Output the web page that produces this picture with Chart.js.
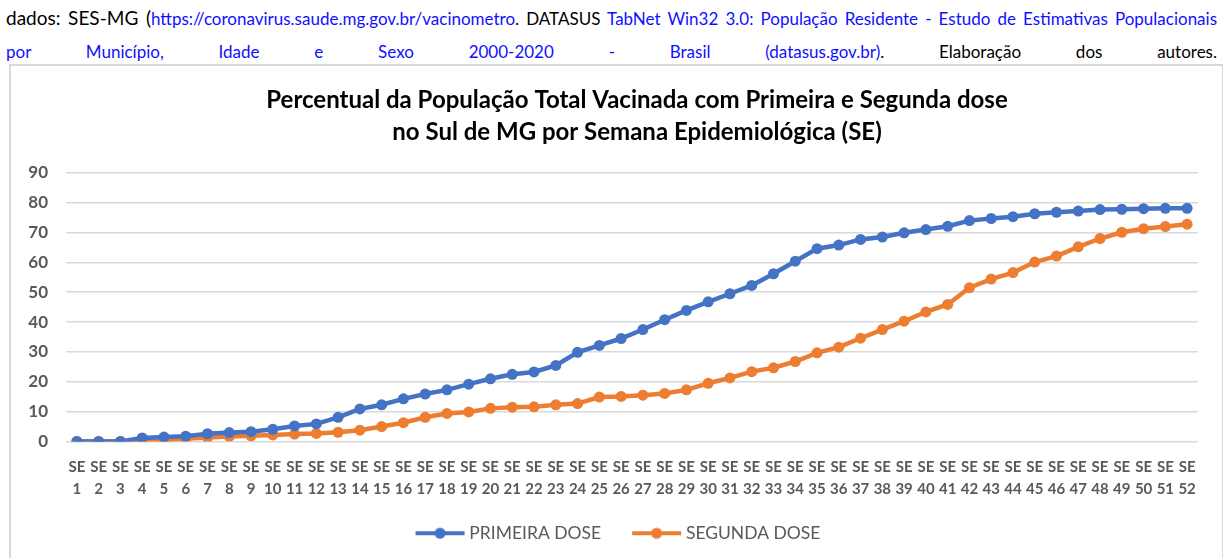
<!DOCTYPE html>
<html>
<head>
<meta charset="utf-8">
<script src="https://cdn.jsdelivr.net/npm/chart.js@4.4.1/dist/chart.umd.min.js"></script>
<style>
  html, body { margin: 0; padding: 0; background: #fff; overflow: hidden; }
  body { width: 1223px; height: 558px; position: relative; font-family: Lato, "Open Sans", sans-serif; }
  .linha { position: absolute; left: 6px; width: 1211px; white-space: nowrap; text-align: justify; text-align-last: justify; color: #000; }
  .l1 { top: 6px; font-size: 17px; }
  .l2 { top: 41px; font-size: 17px; }
  .grande { font-size: 19px; }
  .azul { color: #1010ff; }
  .caixa { position: absolute; left: 9px; top: 64px; width: 1211px; height: 520px; border: 2px solid #d9d9d9; border-bottom: none; }
  .grafico { position: absolute; left: 11px; top: 66px; width: 1209px; height: 502px; }
</style>
</head>
<body>
<div class="linha l1"><span class="grande">dados: SES-MG (</span><span class="azul">https://coronavirus.saude.mg.gov.br/vacinometro</span>. DATASUS <span class="azul">TabNet Win32 3.0: População Residente - Estudo de Estimativas Populacionais</span></div>
<div class="linha l2"><span class="azul">por Município, Idade e Sexo 2000-2020 - Brasil (datasus.gov.br)</span>. Elaboração dos autores.</div>
<div class="caixa"></div>
<div class="grafico"><canvas id="myChart"></canvas></div>

<script>
// semanas epidemiologicas
const semanas = [1, 2, 3, 4, 5, 6, 7, 8, 9, 10, 11, 12, 13, 14, 15, 16, 17, 18, 19, 20, 21, 22, 23, 24, 25, 26,
  27, 28, 29, 30, 31, 32, 33, 34, 35, 36, 37, 38, 39, 40, 41, 42, 43, 44, 45, 46, 47, 48, 49, 50, 51, 52];

// % da populacao
const primeiraDose = [0, 0, 0, 1.2, 1.5, 1.8, 2.6, 3, 3.3, 4.1, 5.2, 5.9, 8.1, 10.9, 12.3, 14.3, 15.9, 17.3, 19.2, 21.0,
  22.5, 23.3, 25.5, 29.9, 32.2, 34.5, 37.5, 40.8, 43.9, 46.8, 49.5, 52.3, 56.2, 60.4, 64.6, 65.8, 67.7, 68.5, 69.9, 71.0,
  72.1, 74.0, 74.7, 75.3, 76.3, 76.8, 77.2, 77.7, 77.8, 78.0, 78.1, 78.1];

const segundaDose = [0, 0, 0, 0.3, 0.5, 0.9, 1.3, 1.7, 1.9, 2.2, 2.5, 2.7, 3.1, 3.8, 5.0, 6.3, 8.1, 9.4, 9.9, 11.1,
  11.5, 11.6, 12.3, 12.7, 14.9, 15.1, 15.5, 16.1, 17.3, 19.5, 21.3, 23.4, 24.7, 26.8, 29.7, 31.6, 34.6, 37.5, 40.3, 43.4,
  45.9, 51.5, 54.4, 56.6, 60.1, 62.1, 65.2, 68.0, 70.1, 71.3, 72.0, 72.8];

const nomesSeries = ['PRIMEIRA DOSE', 'SEGUNDA DOSE'];
const coresSeries = ['#4472C4', '#ED7D31'];
const tituloLinhas = ['Percentual da População Total Vacinada com Primeira e Segunda dose', 'no Sul de MG por Semana Epidemiológica (SE)'];
const yTicks = [0, 10, 20, 30, 40, 50, 60, 70, 80, 90];

//marcador da legenda: linha com bolinha no meio (a parte esquerda fica vazia pra dar o espaco entre os itens)
function marcaLegenda(cor) {
  const c = document.createElement('canvas');
  c.width = 78;
  c.height = 14;
  const g = c.getContext('2d');
  g.strokeStyle = cor;
  g.lineWidth = 4;
  g.beginPath();
  g.moveTo(27, 7);
  g.lineTo(76, 7);
  g.stroke();
  g.fillStyle = cor;
  g.beginPath();
  g.arc(51.5, 7, 5.5, 0, Math.PI * 2);
  g.fill();
  return c;
}
const marcas = coresSeries.map(marcaLegenda);

// o titulo do excel fica um pouco pra direita do centro, a legenda um pouco pra esquerda
const ajustaPosicoes = {
  id: 'ajustaPosicoes',
  afterLayout: function (chart) {
    chart.titleBlock.left += 50;
    chart.legend.left -= 4.5;
    chart.legend.right -= 4.5;
  }
};

const ctx = document.getElementById('myChart').getContext('2d');
const myChart = new Chart(ctx, {
  type: 'line',
  data: {
    labels: semanas.map(n => ['SE', String(n)]),
    datasets: [{
      label: nomesSeries[0],
      data: primeiraDose,
      borderColor: coresSeries[0],
      backgroundColor: coresSeries[0],
      borderWidth: 4.5,
      pointRadius: 5.5,
      pointBorderWidth: 0,
      tension: 0
    }, {
      label: nomesSeries[1],
      data: segundaDose,
      borderColor: coresSeries[1],
      backgroundColor: coresSeries[1],
      borderWidth: 4.5,
      pointRadius: 5.5,
      pointBorderWidth: 0,
      tension: 0
    }]
  },
  plugins: [ajustaPosicoes],
  options: {
    responsive: true,
    maintainAspectRatio: false,
    animation: false,
    layout: { padding: { left: 15, right: 22, top: 0, bottom: 16 } },
    plugins: {
      title: {
        display: true,
        text: tituloLinhas,
        color: '#000',
        font: { family: 'Lato', size: 24, weight: 'bold', lineHeight: 1.33 },
        padding: { top: 18, bottom: 25 }
      },
      legend: {
        position: 'bottom',
        labels: {
          usePointStyle: true,
          pointStyleWidth: 66,
          padding: 10,
          color: '#595959',
          font: { family: 'Lato', size: 17.5 },
          generateLabels: function (chart) {
            const items = Chart.defaults.plugins.legend.labels.generateLabels(chart);
            items.forEach(function (it, i) { it.pointStyle = marcas[i]; });
            return items;
          }
        }
      },
      tooltip: { enabled: false }
    },
    scales: {
      x: {
        offset: true,
        grid: { display: false, drawTicks: false },
        border: { display: false },
        ticks: {
          autoSkip: false,
          maxRotation: 0,
          padding: 14,
          color: '#595959',
          font: { family: 'Lato', size: 15, weight: 'bold', lineHeight: 1.5 }
        }
      },
      y: {
        min: 0,
        max: 90,
        afterFit: function (s) { s.width = 40; },
        afterBuildTicks: function (s) { s.ticks = yTicks.map(v => ({ value: v })); },
        grid: { color: '#d9d9d9', lineWidth: 1.5, drawTicks: false },
        border: { display: false },
        ticks: {
          padding: 18,
          color: '#595959',
          font: { family: 'Lato', size: 17, weight: 'bold' }
        }
      }
    }
  }
});
</script>
</body>
</html>
